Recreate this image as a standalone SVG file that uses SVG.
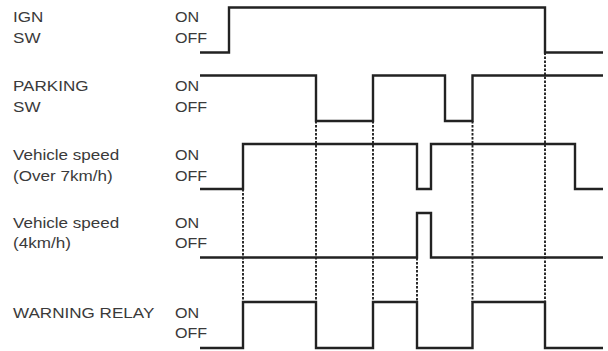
<svg xmlns="http://www.w3.org/2000/svg" width="608" height="351" viewBox="0 0 608 351">
<style>
  .lbl { font-family: "Liberation Sans", Arial, sans-serif; font-size: 14px; fill: #3a3a3a; }
  .sig { fill: none; stroke: #222; stroke-width: 2.4; stroke-linejoin: miter; stroke-linecap: butt; }
  .dash { fill: none; stroke: #222; stroke-width: 1.9; stroke-dasharray: 2.5 1.5; }
</style>
<rect width="608" height="351" fill="#fff"/>
<g id="guides">
  <line class="dash" x1="243" y1="189" x2="243" y2="302"/>
  <line class="dash" x1="316" y1="121" x2="316" y2="302"/>
  <line class="dash" x1="373" y1="121" x2="373" y2="302"/>
  <line class="dash" x1="417" y1="258" x2="417" y2="302"/>
  <line class="dash" x1="472.5" y1="121" x2="472.5" y2="302"/>
  <line class="dash" x1="545" y1="52.5" x2="545" y2="302"/>
</g>
<g id="ign">
  <text class="lbl" transform="translate(13,22) scale(1.22,1)">IGN</text>
  <text class="lbl" transform="translate(13,43) scale(1.22,1)">SW</text>
  <text class="lbl" transform="translate(175,22) scale(1.15,1)">ON</text>
  <text class="lbl" transform="translate(175,43) scale(1.15,1)">OFF</text>
  <polyline class="sig" points="200,52.5 229,52.5 229,7.5 545,7.5 545,52.5 603,52.5"/>
</g>
<g id="parking">
  <text class="lbl" transform="translate(13,91) scale(1.22,1)">PARKING</text>
  <text class="lbl" transform="translate(13,112) scale(1.22,1)">SW</text>
  <text class="lbl" transform="translate(175,91) scale(1.15,1)">ON</text>
  <text class="lbl" transform="translate(175,112) scale(1.15,1)">OFF</text>
  <polyline class="sig" points="200,75.5 316,75.5 316,121 373,121 373,75.5 445,75.5 445,121 472.5,121 472.5,75.5 603,75.5"/>
</g>
<g id="speed7">
  <text class="lbl" transform="translate(13,160) scale(1.22,1)">Vehicle speed</text>
  <text class="lbl" transform="translate(13,181) scale(1.22,1)">(Over 7km/h)</text>
  <text class="lbl" transform="translate(175,160) scale(1.15,1)">ON</text>
  <text class="lbl" transform="translate(175,181) scale(1.15,1)">OFF</text>
  <polyline class="sig" points="200,189 243,189 243,144 417,144 417,189 431,189 431,144 575,144 575,189 603,189"/>
</g>
<g id="speed4">
  <text class="lbl" transform="translate(13,228) scale(1.22,1)">Vehicle speed</text>
  <text class="lbl" transform="translate(13,248) scale(1.22,1)">(4km/h)</text>
  <text class="lbl" transform="translate(175,228) scale(1.15,1)">ON</text>
  <text class="lbl" transform="translate(175,248) scale(1.15,1)">OFF</text>
  <polyline class="sig" points="200,257.5 417,257.5 417,213 431,213 431,257.5 603,257.5"/>
</g>
<g id="relay">
  <text class="lbl" transform="translate(13,318) scale(1.22,1)">WARNING RELAY</text>
  <text class="lbl" transform="translate(175,318) scale(1.15,1)">ON</text>
  <text class="lbl" transform="translate(175,338) scale(1.15,1)">OFF</text>
  <polyline class="sig" points="200,348 243,348 243,302 316,302 316,348 373,348 373,302 417,302 417,348 472.5,348 472.5,302 545,302 545,348 603,348"/>
</g>
</svg>
